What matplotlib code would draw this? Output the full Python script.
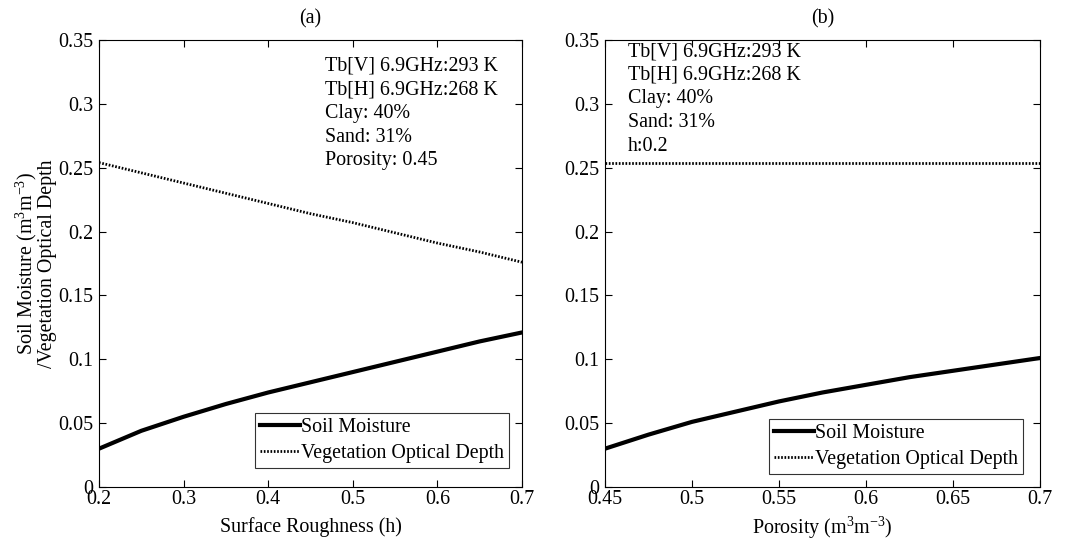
import matplotlib
matplotlib.use("Agg")
import matplotlib.pyplot as plt

plt.rcParams["font.family"] = ["Liberation Serif", "DejaVu Serif"]
plt.rcParams["mathtext.fontset"] = "custom"
plt.rcParams["mathtext.rm"] = "Liberation Serif"
plt.rcParams["mathtext.it"] = "Liberation Serif"

# panel (a): surface roughness
rough_h = [0.2, 0.25, 0.3, 0.35, 0.4, 0.45, 0.5, 0.55, 0.6, 0.65, 0.7]
rough_sm = [0.030, 0.044, 0.055, 0.065, 0.074, 0.082, 0.090, 0.098, 0.106, 0.114, 0.121]
rough_vod = [0.254, 0.246, 0.238, 0.230, 0.222, 0.214, 0.207, 0.199, 0.191, 0.184, 0.176]

# panel (b): porosity
poro = [0.45, 0.475, 0.5, 0.525, 0.55, 0.575, 0.6, 0.625, 0.65, 0.675, 0.7]
poro_sm = [0.030, 0.041, 0.051, 0.059, 0.067, 0.074, 0.080, 0.086, 0.091, 0.096, 0.101]
poro_vod = [0.254] * len(poro)

text_a = "Tb[V] 6.9GHz:293 K\nTb[H] 6.9GHz:268 K\nClay: 40%\nSand: 31%\nPorosity: 0.45"
text_b = "Tb[V] 6.9GHz:293 K\nTb[H] 6.9GHz:268 K\nClay: 40%\nSand: 31%\nh:0.2"

FS = 14.4
fig = plt.figure(figsize=(10.67, 5.44), dpi=100)
W, H = 1067, 544
ax_a = fig.add_axes([99 / W, 1 - 487 / H, 423 / W, 447 / H])
ax_b = fig.add_axes([605 / W, 1 - 487 / H, 435 / W, 447 / H])

dot = (0, (0.6, 0.6))


def style(ax, xlim, xticks, xticklabels):
    ax.set_xlim(*xlim)
    ax.set_ylim(0, 0.35)
    ax.set_xticks(xticks)
    ax.set_xticklabels(xticklabels)
    ax.set_yticks([0, 0.05, 0.1, 0.15, 0.2, 0.25, 0.3, 0.35])
    ax.set_yticklabels(["0", "0.05", "0.1", "0.15", "0.2", "0.25", "0.3", "0.35"])
    ax.tick_params(direction="in", top=True, right=True, labelsize=FS, length=5, width=0.8)
    ax.tick_params(axis="x", pad=2)
    ax.tick_params(axis="y", pad=4)
    for s in ax.spines.values():
        s.set_linewidth(0.8)


def legend(ax, anchor):
    leg = ax.legend(loc="lower right", bbox_to_anchor=anchor, fontsize=FS, frameon=True, fancybox=False,
                    edgecolor="black", handlelength=2.0, handletextpad=0.05, borderpad=0.25,
                    labelspacing=0.35, borderaxespad=0)
    leg.get_frame().set_linewidth(0.8)


ax_a.plot(rough_h, rough_sm, color="black", lw=3, label="Soil Moisture")
ax_a.plot(rough_h, rough_vod, color="black", lw=2, linestyle=dot, label="Vegetation Optical Depth")
style(ax_a, (0.2, 0.7), [0.2, 0.3, 0.4, 0.5, 0.6, 0.7], ["0.2", "0.3", "0.4", "0.5", "0.6", "0.7"])
ax_a.set_title("(a)", fontsize=FS, pad=12)
ax_a.set_xlabel("Surface Roughness (h)", fontsize=FS, labelpad=6)
ax_a.set_ylabel("Soil Moisture (m$^3$m$^{-3}$)\n/Vegetation Optical Depth", fontsize=FS, labelpad=1,
                linespacing=0.95)
ax_a.text(0.535, 0.962, text_a, transform=ax_a.transAxes, fontsize=FS, va="top", ha="left", linespacing=1.33)
legend(ax_a, (0.97, 0.042))

ax_b.plot(poro, poro_sm, color="black", lw=3, label="Soil Moisture")
ax_b.plot(poro, poro_vod, color="black", lw=2, linestyle=dot, label="Vegetation Optical Depth")
style(ax_b, (0.45, 0.7), [0.45, 0.5, 0.55, 0.6, 0.65, 0.7], ["0.45", "0.5", "0.55", "0.6", "0.65", "0.7"])
ax_b.set_title("(b)", fontsize=FS, pad=12)
ax_b.set_xlabel("Porosity (m$^3$m$^{-3}$)", fontsize=FS, labelpad=4)
ax_b.text(0.053, 0.995, text_b, transform=ax_b.transAxes, fontsize=FS, va="top", ha="left", linespacing=1.33)
legend(ax_b, (0.96, 0.029))

fig.savefig("out.png", dpi=100)
